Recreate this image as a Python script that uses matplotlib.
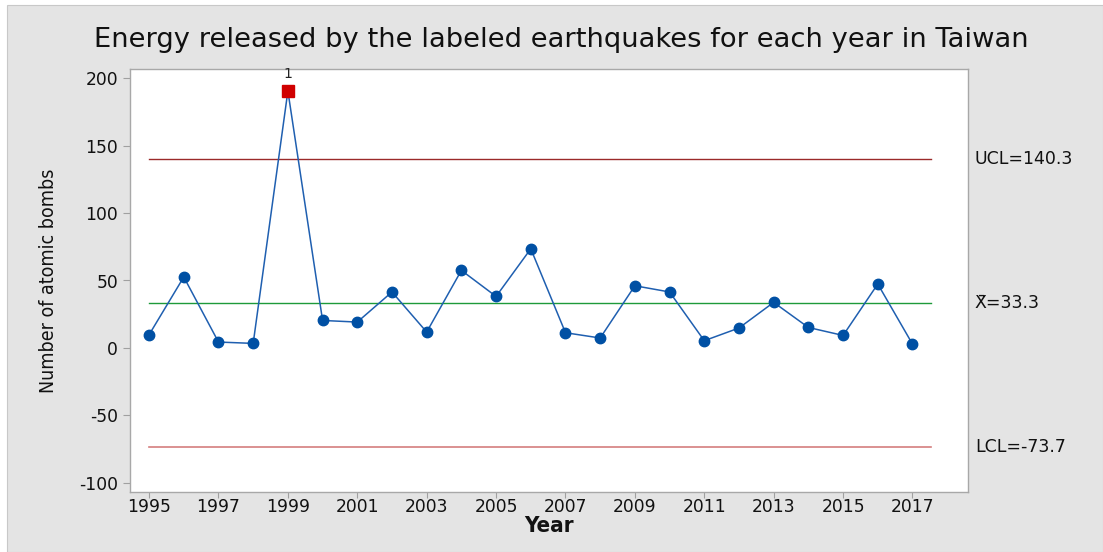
import matplotlib
matplotlib.use("Agg")
import matplotlib.pyplot as plt
from matplotlib.patches import Rectangle

years = list(range(1995, 2018))
energy = [9.8, 52.6, 4.4, 3.4, 190.4, 20.4, 19.2, 41.5, 11.8, 57.5, 38.2, 73.5,
          11.3, 7.4, 46.1, 41.5, 5.4, 14.8, 33.8, 15.2, 9.3, 47.4, 2.9]
ucl, center, lcl = 140.3, 33.3, -73.7
ucl_label = "UCL=140.3"
center_label = "X\u0304=33.3"
lcl_label = "LCL=-73.7"
out_years = [1999]
xticks = list(range(1995, 2018, 2))
yticks = [-100, -50, 0, 50, 100, 150, 200]

W, H = 1103, 552
fig = plt.figure(figsize=(W / 100, H / 100), dpi=100)
fig.patch.set_facecolor("white")
bg = Rectangle((7 / W, 0), 1 - 7 / W, (H - 5) / H, transform=fig.transFigure,
               facecolor="#e4e4e4", edgecolor="#c8c8c8", lw=0.8, zorder=-10)
fig.patches.append(bg)

ax = fig.add_axes([130 / W, (H - 492) / H, 838 / W, 423 / H])
ax.set_facecolor("white")

x0, x1 = years[0], years[-1] + 0.52
ax.plot([x0, x1], [ucl, ucl], color="#9b2a2a", lw=1.0)
ax.plot([x0, x1], [center, center], color="#1e9a3a", lw=1.0)
ax.plot([x0, x1], [lcl, lcl], color="#d47e7e", lw=1.2)

ax.plot(years, energy, color="#1f5fb0", lw=1.1, zorder=3)
in_x = [y for y, v in zip(years, energy) if y not in out_years]
in_v = [v for y, v in zip(years, energy) if y not in out_years]
ax.plot(in_x, in_v, "o", color="#0050a4", ms=7.5, zorder=4)
out_v = [v for y, v in zip(years, energy) if y in out_years]
ax.plot(out_years, out_v, "s", color="#d00000", ms=8, zorder=5)
for y, v in zip(out_years, out_v):
    ax.annotate("1", (y, v), xytext=(0, 7), textcoords="offset points",
                ha="center", va="bottom", fontsize=10, color="#222222",
                family="DejaVu Sans")

ax.set_xlim(1994.45, 2018.6)
ax.set_ylim(-106.7, 206.7)
ax.set_xticks(xticks)
ax.set_xticklabels([str(t) for t in xticks], family="DejaVu Sans", fontsize=12.3)
ax.set_yticks(yticks)
ax.set_yticklabels([str(t) for t in yticks], family="DejaVu Sans", fontsize=12.3)
ax.tick_params(axis="both", direction="out", length=5, color="#a0a0a0",
               labelcolor="#111111", width=0.8)
ax.tick_params(axis="x", pad=0, length=4)
for s in ax.spines.values():
    s.set_color("#a8a8a8")
    s.set_linewidth(1.0)

ax.set_xlabel("Year", family="DejaVu Sans", fontstretch="condensed", fontsize=16,
              fontweight="bold", color="#111111", labelpad=0)
ax.set_ylabel("Number of atomic bombs", family="DejaVu Sans", fontstretch="condensed",
              fontsize=14, color="#111111", labelpad=15)

fig.text(561 / W, 1 - 40 / H, "Energy released by the labeled earthquakes for each year in Taiwan",
         ha="center", va="center", fontsize=19.7, family="DejaVu Sans", color="#111111")

trans = ax.get_yaxis_transform()
for val, lab in [(ucl, ucl_label), (center, center_label), (lcl, lcl_label)]:
    ax.annotate(lab, xy=(1.0, val), xycoords=trans, xytext=(5, 0),
                textcoords="offset points", ha="left", va="center",
                fontsize=12.5, family="DejaVu Sans", color="#111111",
                annotation_clip=False)

fig.savefig("out.png", dpi=100, facecolor=fig.get_facecolor())
